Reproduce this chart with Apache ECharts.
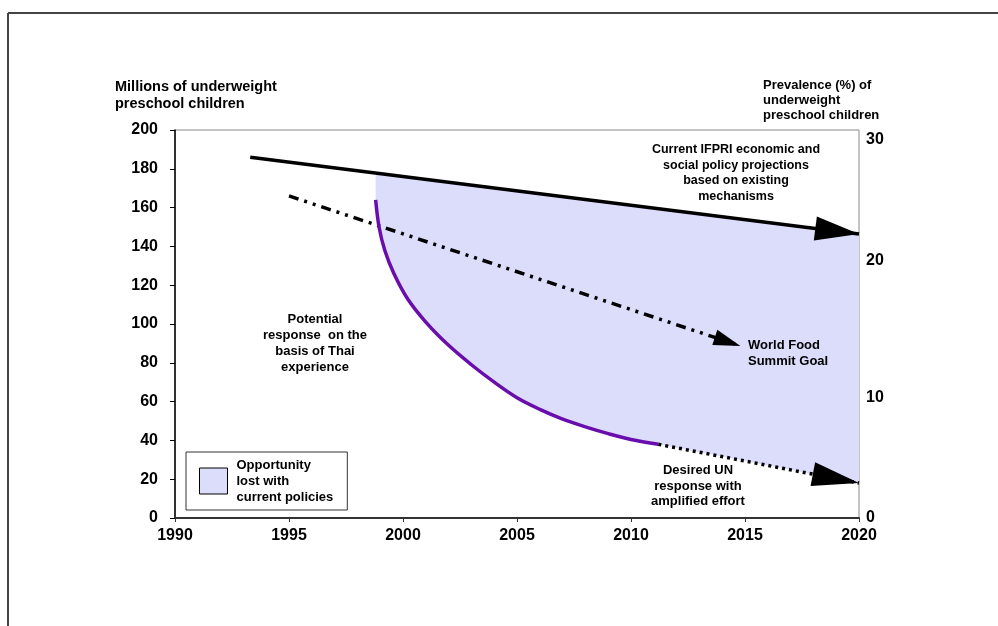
<!DOCTYPE html>
<html><head><meta charset="utf-8">
<script src="https://cdn.jsdelivr.net/npm/echarts@6/dist/echarts.min.js"></script>
<style>html,body{margin:0;padding:0;background:#fff}#c{width:998px;height:626px}</style>
</head><body><div id="c"></div>
<script>
// ---- data ----
const xTicks = [1990, 1995, 2000, 2005, 2010, 2015, 2020];
const ifpriLine = [[1993.3, 186], [2020, 146.4]];
const wfsGoalLine = [[1995.0, 166], [2014.8, 88.7]];
const thaiCurve = [[1998.8, 164], [1998.95, 150], [1999.2, 138], [1999.6, 126], [2000.2, 113], [2001.0, 101],
  [2002.0, 89], [2003.0, 79], [2004.0, 70], [2005.0, 62], [2006.0, 56], [2007.0, 51],
  [2008.0, 47], [2009.0, 43.5], [2010.0, 40.5], [2011.2, 38]];
const unDesiredLine = [[2011.2, 38], [2020, 18]];
const lostTop = [[1998.8, 177.8], [2020, 146.4]];
const rightTickLabels = ['0', '10', '20', '30'];
const rightTickAt = [0, 62, 132.5, 195];

// ---- styles ----
const FONT = "'Liberation Sans', Arial, sans-serif";
const FILL = '#dcdcfb';
const PURPLE = '#6a0dad';

const chart = echarts.init(document.getElementById('c'), null, {renderer: 'canvas'});

function arrow(name, line, len, half) {
  const a = line[line.length - 2], b = line[line.length - 1];
  return {
    type: 'custom', name, coordinateSystem: 'cartesian2d', silent: true, z: 5,
    encode: {x: [0, 2], y: [1, 3]},
    data: [[a[0], a[1], b[0], b[1]]],
    renderItem(params, api) {
      const p1 = api.coord([api.value(0), api.value(1)]);
      const p2 = api.coord([api.value(2), api.value(3)]);
      const dx = p2[0] - p1[0], dy = p2[1] - p1[1];
      const L = Math.hypot(dx, dy), ux = dx / L, uy = dy / L;
      const bx = p2[0] - ux * len, by = p2[1] - uy * len;
      const nx = -uy, ny = ux;
      return {type: 'polygon', shape: {points: [p2, [bx + nx * half, by + ny * half], [bx - nx * half, by - ny * half]]},
        style: {fill: '#000'}};
    }
  };
}

const option = {
  animation: false,
  backgroundColor: '#fff',
  textStyle: {fontFamily: FONT},
  grid: {left: 175, right: 139, top: 130, bottom: 108, show: true, borderColor: '#8a8a8a', borderWidth: 1},
  legend: {
    left: 186, top: 452, orient: 'vertical',
    borderColor: '#333', borderWidth: 1, padding: [5, 14, 5, 13],
    itemWidth: 28, itemHeight: 26, itemGap: 0, icon: 'rect',
    textStyle: {fontFamily: FONT, fontWeight: 'bold', fontSize: 13, color: '#000', lineHeight: 16, padding: [0, 0, 0, 4]},
    data: [{name: 'Opportunity\nlost with\ncurrent policies', itemStyle: {color: FILL, borderColor: '#000', borderWidth: 1}}]
  },
  xAxis: {
    type: 'value', min: 1990, max: 2020, interval: 5,
    axisLine: {lineStyle: {color: '#333', width: 2}},
    axisTick: {show: true, length: 4, lineStyle: {color: '#333'}},
    splitLine: {show: false},
    axisLabel: {fontFamily: FONT, fontWeight: 'bold', fontSize: 16, color: '#000', margin: 10,
      formatter: v => String(v)}
  },
  yAxis: [{
    type: 'value', min: 0, max: 200, interval: 20,
    axisLine: {show: true, lineStyle: {color: '#000', width: 1.5}},
    axisTick: {show: true, length: 5, lineStyle: {color: '#000'}},
    splitLine: {show: false},
    axisLabel: {fontFamily: FONT, fontWeight: 'bold', fontSize: 16, color: '#000', margin: 17}
  }, {
    type: 'value', min: 0, max: 200, position: 'right',
    axisLine: {show: false}, axisTick: {show: false}, splitLine: {show: false},
    axisLabel: {fontFamily: FONT, fontWeight: 'bold', fontSize: 16, color: '#000', margin: 7,
      customValues: rightTickAt,
      formatter: v => rightTickLabels[rightTickAt.indexOf(v)] ?? ''}
  }],
  series: [
    {
      type: 'custom', name: 'Opportunity\nlost with\ncurrent policies', coordinateSystem: 'cartesian2d',
      itemStyle: {color: FILL}, silent: true, z: 1,
      encode: {x: 0, y: 1},
      data: [[2005, 100]],
      renderItem(params, api) {
        const pts = [];
        lostTop.forEach(p => pts.push(api.coord(p)));
        const bottom = thaiCurve.concat([unDesiredLine[1]]);
        for (let i = bottom.length - 1; i >= 0; i--) pts.push(api.coord(bottom[i]));
        return {type: 'polygon', shape: {points: pts, smooth: 0}, style: {fill: FILL}};
      }
    },
    {type: 'line', name: 'IFPRI', data: ifpriLine, symbol: 'none', z: 3,
      lineStyle: {color: '#000', width: 3.5}},
    {type: 'line', name: 'WFS', data: wfsGoalLine, symbol: 'none', z: 3,
      lineStyle: {color: '#000', width: 3.5, type: [10, 6, 3, 6, 3, 6]}},
    {type: 'line', name: 'Thai', data: thaiCurve, symbol: 'none', z: 3, smooth: 0.35,
      lineStyle: {color: PURPLE, width: 3.5}},
    {type: 'line', name: 'UN', data: unDesiredLine, symbol: 'none', z: 3,
      lineStyle: {color: '#000', width: 3.5, type: [3, 4]}},
    arrow('ifpriArrow', ifpriLine, 44, 12),
    arrow('wfsArrow', wfsGoalLine, 27, 8),
    arrow('unArrow', unDesiredLine, 47, 12)
  ],
  graphic: [
    {type: 'line', z: 100, shape: {x1: 8, y1: 13, x2: 998, y2: 13}, style: {stroke: '#444', lineWidth: 2}},
    {type: 'line', z: 100, shape: {x1: 8, y1: 13, x2: 8, y2: 626}, style: {stroke: '#444', lineWidth: 2}},
    {type: 'text', z: 100, left: 115, top: 78, style: {text: 'Millions of underweight\npreschool children',
      font: `bold 14.5px ${FONT}`, fill: '#000', lineHeight: 17}},
    {type: 'text', z: 100, left: 763, top: 78, style: {text: 'Prevalence (%) of\nunderweight\npreschool children',
      font: `bold 13px ${FONT}`, fill: '#000', lineHeight: 15}},
    {type: 'text', z: 100, x: 736, y: 142, style: {text: 'Current IFPRI economic and\nsocial policy projections\nbased on existing\nmechanisms',
      font: `bold 12.5px ${FONT}`, fill: '#000', lineHeight: 15.5, align: 'center'}},
    {type: 'text', z: 100, x: 748, y: 338, style: {text: 'World Food\nSummit Goal',
      font: `bold 13px ${FONT}`, fill: '#000', lineHeight: 15.5, align: 'left'}},
    {type: 'text', z: 100, x: 315, y: 312, style: {text: 'Potential\nresponse  on the\nbasis of Thai\nexperience',
      font: `bold 13px ${FONT}`, fill: '#000', lineHeight: 15.7, align: 'center'}},
    {type: 'text', z: 100, x: 698, y: 463, style: {text: 'Desired UN\nresponse with\namplified effort',
      font: `bold 13px ${FONT}`, fill: '#000', lineHeight: 15.5, align: 'center'}}
  ]
};
chart.setOption(option);
</script>
</body></html>
